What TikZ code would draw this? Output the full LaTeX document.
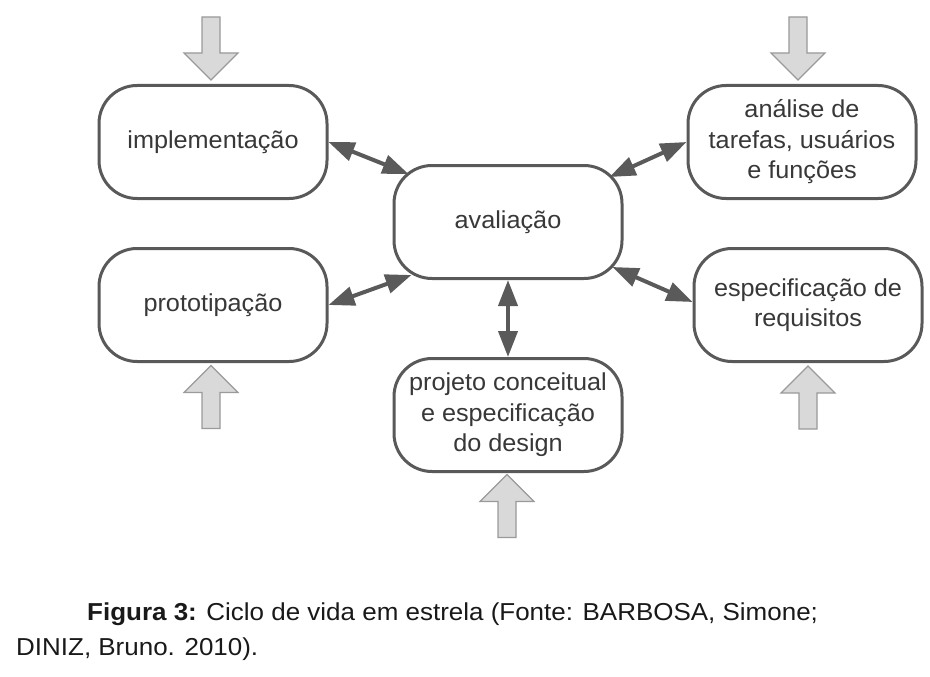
\documentclass[tikz,border=0pt]{standalone}
\usepackage{fontspec}
\setmainfont{Liberation Sans}
\newfontfamily\boxfont[FakeStretch=1.03]{Liberation Sans}
\newfontfamily\capfont[FakeStretch=1.06]{Liberation Sans}
\usetikzlibrary{arrows.meta}
\definecolor{boxgray}{HTML}{595959}
\definecolor{txtgray}{HTML}{383838}
\definecolor{linkgray}{HTML}{5A5A5A}
\definecolor{arrgray}{HTML}{9A9A9A}
\definecolor{arrfill}{HTML}{D9D9D9}
\begin{document}
\begin{tikzpicture}[x=1pt,y=-1pt,
	box/.style={draw=boxgray,line width=3pt,rounded corners=38pt,fill=white,
		minimum width=228pt,minimum height=113pt,align=center,text=txtgray,
		font=\boxfont\fontsize{24.5}{30.5}\selectfont},
	link/.style={{Triangle[length=26pt,width=19pt]}-{Triangle[length=26pt,width=19pt]},
		line width=4pt,draw=linkgray},
	inarrow/.pic={\draw[draw=arrgray,fill=arrfill,line width=1.2pt]
		(-9,-31.5) -- (9,-31.5) -- (9,4.5) -- (27,4.5) -- (0,31.5)
		-- (-27,4.5) -- (-9,4.5) -- cycle;}]
\useasboundingbox (0,0) rectangle (930,677);
% the six stages
\node[box] (impl) at (213,142) {implementação};
\node[box] (anal) at (802,142) {análise de\\tarefas, usuários\\e funções};
\node[box] (aval) at (508,222) {avaliação};
\node[box] (prot) at (213,305) {prototipação};
\node[box] (espec) at (808,305) {especificação de\\requisitos};
\node[box] (proj) at (508,415) {projeto conceitual\\e especificação\\do design};
% links to avaliação
\draw[link] (impl.east) -- ([xshift=16pt,yshift=-10pt]aval.north west);
\draw[link] (prot.east) -- ([xshift=19pt,yshift=5pt]aval.south west);
\draw[link] (anal.west) -- ([xshift=-14pt,yshift=-13pt]aval.north east);
\draw[link] ([yshift=3pt]espec.west) -- ([xshift=-11pt,yshift=13pt]aval.south east);
\draw[link] (aval.south) -- (proj.north);
% entry arrows
\pic at (211,48.5) {inarrow};
\pic at (798,48.5) {inarrow};
\pic[rotate=180] at (211,397) {inarrow};
\pic[rotate=180] at (808,397.5) {inarrow};
\pic[rotate=180] at (507,506) {inarrow};
% caption
\node[anchor=base west,inner sep=0pt,text=black!90,font=\capfont\fontsize{24.5}{30}\selectfont]
	(cap1) at (87,620) {\textbf{Figura 3:} Ciclo de vida em estrela (Fonte: BARBOSA, Simone;};
\node[anchor=base west,inner sep=0pt,text=black!90,font=\capfont\fontsize{24.5}{30}\selectfont]
	(cap2) at (16,655) {DINIZ, Bruno. 2010).};
\end{tikzpicture}
\end{document}
